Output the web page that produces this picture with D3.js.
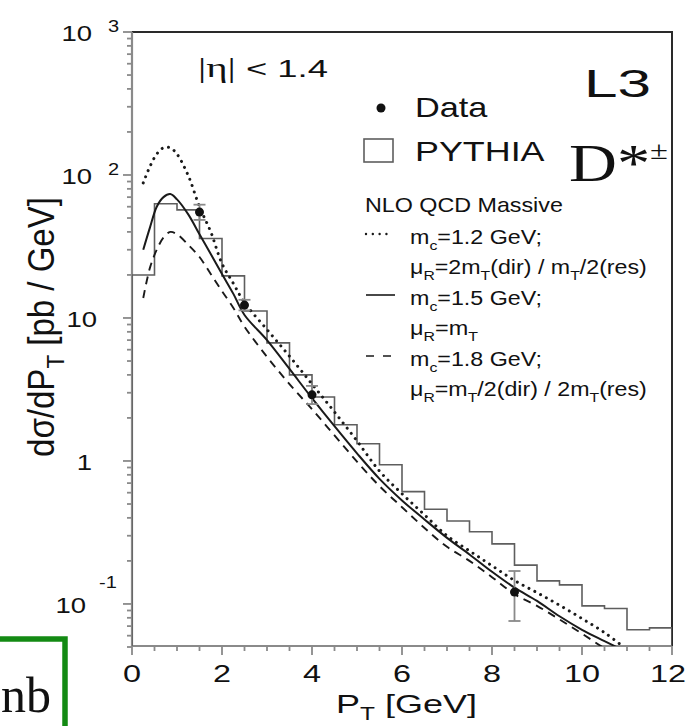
<!DOCTYPE html>
<html>
<head>
<meta charset="utf-8">
<script src="https://cdn.jsdelivr.net/npm/d3@7"></script>
<style>
  html, body { margin: 0; padding: 0; background: #fff; }
  svg { display: block; }
  text { white-space: pre; }
</style>
</head>
<body>
<svg id="chart" width="688" height="726"></svg>
<script>
// ---------------- DATA ----------------
const xTickLabels = [0, 2, 4, 6, 8, 10, 12];
const yTickLabels = [
  { v: 1000, base: "10", exp: "3" },
  { v: 100, base: "10", exp: "2" },
  { v: 10, base: "10", exp: "" },
  { v: 1, base: "1", exp: "" },
  { v: 0.1, base: "10", exp: "-1" }
];

// PYTHIA histogram (bin low edges, GeV) and contents (pb/GeV)
const pythiaLow = [0, 0.5, 1.0, 1.5, 2.0, 2.5, 3.0, 3.5, 4.0, 4.5, 5.0, 5.5,
                   6.0, 6.5, 7.0, 7.5, 8.0, 8.5, 9.0, 9.5, 10.0, 10.5, 11.0, 11.5];
const pythiaVal = [20, 63, 57, 36, 19.7, 11.2, 6.7, 4.0, 2.8, 1.79, 1.32, 0.94,
                   0.61, 0.46, 0.38, 0.32, 0.263, 0.187, 0.145, 0.136, 0.097, 0.093, 0.066, 0.068];

// Data points
const dataPt = [1.5, 2.5, 4.0, 8.5];
const dataVal = [55, 12.3, 2.9, 0.121];
const dataHi = [62, 13.4, 3.35, 0.17];
const dataLo = [48.5, 11.3, 2.5, 0.076];

// NLO QCD massive curves
const nloPt = [0.25, 0.4, 0.55, 0.7, 0.85, 1.0, 1.25, 1.5, 1.75, 2.0, 2.25, 2.5, 3.0, 3.5, 4.0,
               4.5, 5.0, 5.5, 6.0, 6.5, 7.0, 7.5, 8.0, 8.5, 9.0, 9.5, 10.0, 10.5, 11.0];
const nloMc12 = [88, 115, 140, 155, 155, 140, 99, 60, 40, 24, 17.5, 12.8, 8.3, 5.4, 3.45,
                 2.2, 1.38, 0.85, 0.59, 0.42, 0.30, 0.235, 0.185, 0.146, 0.12, 0.098, 0.079, 0.063, 0.048];
const nloMc15 = [30, 43, 60, 70, 73.5, 67.5, 53, 38.5, 28, 20.3, 14.8, 10.5, 7.0, 4.4, 2.75,
                 1.75, 1.13, 0.75, 0.53, 0.39, 0.29, 0.222, 0.168, 0.13, 0.105, 0.082, 0.066, 0.055, 0.046];
const nloMc18 = [13.8, 22.5, 30, 36.5, 40, 38.5, 32.5, 26.7, 20.3, 15.4, 11.8, 8.7, 5.35, 3.45, 2.3,
                 1.51, 0.99, 0.667, 0.475, 0.34, 0.251, 0.2, 0.154, 0.117, 0.097, 0.078, 0.062, 0.049, 0.040];

// ---------------- LAYOUT ----------------
const SANS = "'Liberation Sans', Arial, Helvetica, sans-serif";
const SERIF = "'Liberation Serif', 'Times New Roman', serif";
const L = 132, R = 672, T = 32, B = 646;

const svg = d3.select("#chart");
const x = d3.scaleLinear().domain([0, 12]).range([L, R]);
const y = d3.scaleLog().domain([0.05, 1000]).range([B + 1, T]);

// helper: rich text with sub/superscripts
function rich(parent, parts, size, family) {
  const t = parent.append("text").attr("font-size", size).attr("font-family", family).attr("fill", "#111");
  let shift = 0;
  parts.forEach(p => {
    const target = p.sub ? 0.28 * size : p.sup ? -0.42 * size : 0;
    const ts = t.append("tspan").text(p.t).attr("dy", target - shift);
    if (p.sub || p.sup) ts.attr("font-size", size * (p.scale || 0.68));
    if (p.family) ts.attr("font-family", p.family);
    if (p.size) ts.attr("font-size", p.size);
    shift = target;
  });
  return t;
}
// fit text horizontally: left edge & width
function fitLeft(t, left, w) {
  const bb = t.node().getBBox();
  const s = w / bb.width;
  t.attr("transform", `translate(${left - bb.x * s},0) scale(${s},1)`);
}

// clip
svg.append("defs").append("clipPath").attr("id", "plotclip")
  .append("rect").attr("x", L).attr("y", T).attr("width", R - L).attr("height", B - T);

// ---------------- FRAME & AXES ----------------
svg.append("path").attr("d", `M${L},${T}H${R}V${B}`).attr("fill", "none")
  .attr("stroke", "#2a2a2a").attr("stroke-width", 2);

// left axis (gray) with log ticks pointing outward
const gy = svg.append("g").attr("stroke", "#8a8a8a").attr("stroke-width", 1.8);
gy.append("line").attr("x1", L).attr("x2", L).attr("y1", T).attr("y2", B).attr("stroke-width", 2.2);
const yMajor = [0.1, 1, 10, 100, 1000];
const yMinor = [];
[0.01, 0.1, 1, 10, 100].forEach(d => { for (let k = 2; k <= 9; k++) { const v = d * k; if (v >= 0.05 && v < 1000) yMinor.push(v); } });
yMajor.forEach(v => gy.append("line").attr("x1", L - 9).attr("x2", L).attr("y1", y(v)).attr("y2", y(v)));
yMinor.forEach(v => gy.append("line").attr("x1", L - 5).attr("x2", L).attr("y1", y(v)).attr("y2", y(v)));

// bottom axis (gray) with ticks pointing down
const gx = svg.append("g").attr("stroke", "#8a8a8a").attr("stroke-width", 1.8);
gx.append("line").attr("x1", L).attr("x2", R).attr("y1", B).attr("y2", B).attr("stroke-width", 2.2);
d3.range(0, 12.01, 0.5).forEach(v => {
  const major = xTickLabels.includes(v);
  gx.append("line").attr("x1", x(v)).attr("x2", x(v)).attr("y1", B).attr("y2", B + (major ? 9 : 5));
});

// x tick labels (kept inside the page at the right edge)
xTickLabels.forEach(v => {
  const t = svg.append("text").attr("y", 682).attr("font-size", 24).attr("font-family", SANS)
    .attr("fill", "#111").attr("text-anchor", "middle").text(v);
  const s = 1.35;
  const bb = t.node().getBBox();
  let cx = x(v);
  const half = bb.width * s / 2;
  if (cx + half > 686) cx = 686 - half;
  t.attr("transform", `translate(${cx},0) scale(${s},1)`);
});

// y tick labels
yTickLabels.forEach(d => {
  const yy = y(d.v);
  if (d.exp === "") {
    const t = svg.append("text").attr("y", yy + 9).attr("font-size", 22).attr("font-family", SANS)
      .attr("fill", "#111").attr("text-anchor", "end").text(d.base);
    t.attr("transform", `translate(${d.base.length > 1 ? 97 : 92},0) scale(1.25,1)`);
  } else {
    const neg = d.exp.startsWith("-");
    const t = svg.append("text").attr("y", yy + 9).attr("font-size", 22).attr("font-family", SANS)
      .attr("fill", "#111").attr("text-anchor", "end").text(d.base);
    t.attr("transform", `translate(${neg ? 86 : 92},0) scale(1.25,1)`);
    const e = svg.append("text").attr("y", neg ? yy - 16 : yy).attr("font-size", 16).attr("font-family", SANS)
      .attr("fill", "#111").text(d.exp.replace("-", "\u2011"));
    e.attr("transform", `translate(${neg ? 99 : 108},0) scale(1.25,1)`);
  }
});

// axis titles
const xt = rich(svg, [{ t: "P" }, { t: "T", sub: true }, { t: " [GeV]" }], 26, SANS).attr("y", 713);
fitLeft(xt, 336, 141);

const ytg = svg.append("g").attr("transform", "translate(54,327) rotate(-90)");
const yt = rich(ytg, [{ t: "d\u03c3/dP" }, { t: "T", sub: true }, { t: " [pb / GeV]" }], 29, SANS)
  .attr("text-anchor", "middle");
{
  const bb = yt.node().getBBox();
  const s = 260 / bb.width;
  yt.attr("transform", `translate(${-(bb.x + bb.width / 2) * s},0) scale(${s},1.25)`);
}

// ---------------- PLOT CONTENT ----------------
const plot = svg.append("g").attr("clip-path", "url(#plotclip)");

// PYTHIA histogram
{
  let d = `M${x(pythiaLow[0])},${y(0.05)}V${y(pythiaVal[0])}`;
  pythiaLow.forEach((lo, i) => {
    const hi = i + 1 < pythiaLow.length ? pythiaLow[i + 1] : 12;
    d += `V${y(pythiaVal[i])}H${x(hi)}`;
  });
  d += `V${y(0.05)}`;
  plot.append("path").attr("d", d).attr("fill", "none").attr("stroke", "#5e5e5e").attr("stroke-width", 1.6);
}

// NLO curves
const line = d3.line().x(d => x(d[0])).y(d => y(d[1])).curve(d3.curveCatmullRom.alpha(0.5));
const curveStyles = [
  { vals: nloMc12, dash: "0.01,6.6", width: 3, cap: "round" },
  { vals: nloMc15, dash: null, width: 2, cap: "butt" },
  { vals: nloMc18, dash: "8,6", width: 1.9, cap: "butt" }
];
curveStyles.forEach(c => {
  const p = plot.append("path").datum(nloPt.map((v, i) => [v, c.vals[i]]))
    .attr("d", line).attr("fill", "none").attr("stroke", "#1a1a1a")
    .attr("stroke-width", c.width).attr("stroke-linecap", c.cap);
  if (c.dash) p.attr("stroke-dasharray", c.dash);
});

// data points with error bars
const gd = svg.append("g");
dataPt.forEach((pt, i) => {
  const cx = x(pt);
  gd.append("line").attr("x1", cx).attr("x2", cx).attr("y1", y(dataHi[i])).attr("y2", y(dataLo[i]))
    .attr("stroke", "#8a8a8a").attr("stroke-width", 1.8);
  [dataHi[i], dataLo[i]].forEach(v => gd.append("line").attr("x1", cx - 6).attr("x2", cx + 6)
    .attr("y1", y(v)).attr("y2", y(v)).attr("stroke", "#8a8a8a").attr("stroke-width", 1.8));
  gd.append("circle").attr("cx", cx).attr("cy", y(dataVal[i])).attr("r", 4.5).attr("fill", "#111");
});

// ---------------- TEXT / LEGEND ----------------
{
  const t = rich(svg, [{ t: "|\u03b7|", family: SERIF, size: 27 }, { t: " < 1.4" }], 24, SANS).attr("y", 77);
  fitLeft(t, 198, 130);
}
{
  const t = svg.append("text").attr("y", 97).attr("font-size", 38).attr("font-family", SANS)
    .attr("fill", "#111").text("L3");
  fitLeft(t, 584, 67);
}
// Data legend
svg.append("circle").attr("cx", 381).attr("cy", 108).attr("r", 4.5).attr("fill", "#111");
{
  const t = svg.append("text").attr("y", 117).attr("font-size", 28).attr("font-family", SANS)
    .attr("fill", "#111").text("Data");
  fitLeft(t, 415, 73);
}
// PYTHIA legend
svg.append("rect").attr("x", 364).attr("y", 139).attr("width", 29).attr("height", 23)
  .attr("fill", "none").attr("stroke", "#5e5e5e").attr("stroke-width", 1.6);
{
  const t = svg.append("text").attr("y", 161).attr("font-size", 28).attr("font-family", SANS)
    .attr("fill", "#111").text("PYTHIA");
  fitLeft(t, 415, 130);
}
// D*±
{
  const t = svg.append("text").attr("y", 181).attr("font-size", 53).attr("font-family", SERIF).attr("fill", "#111");
  t.append("tspan").text("D*");
  t.append("tspan").text("\u00b1").attr("font-size", 26).attr("dy", -22);
  fitLeft(t, 569, 99);
}
// NLO legend
{
  const t = svg.append("text").attr("y", 212).attr("font-size", 21).attr("font-family", SANS)
    .attr("fill", "#111").text("NLO QCD Massive");
  fitLeft(t, 365, 198);
}
const legRows = [
  { parts: [{ t: "m" }, { t: "c", sub: true }, { t: "=1.2 GeV;" }], y: 244, w: 132, sample: 0 },
  { parts: [{ t: "\u03bc" }, { t: "R", sub: true }, { t: "=2m" }, { t: "T", sub: true }, { t: "(dir) / m" }, { t: "T", sub: true }, { t: "/2(res)" }], y: 274, w: 237 },
  { parts: [{ t: "m" }, { t: "c", sub: true }, { t: "=1.5 GeV;" }], y: 305, w: 132, sample: 1 },
  { parts: [{ t: "\u03bc" }, { t: "R", sub: true }, { t: "=m" }, { t: "T", sub: true }], y: 335, w: 68 },
  { parts: [{ t: "m" }, { t: "c", sub: true }, { t: "=1.8 GeV;" }], y: 366, w: 132, sample: 2 },
  { parts: [{ t: "\u03bc" }, { t: "R", sub: true }, { t: "=m" }, { t: "T", sub: true }, { t: "/2(dir) / 2m" }, { t: "T", sub: true }, { t: "(res)" }], y: 396, w: 237 }
];
legRows.forEach(r => {
  const t = rich(svg, r.parts, 20, SANS).attr("y", r.y);
  fitLeft(t, 410, r.w);
  if (r.sample !== undefined) {
    const c = curveStyles[r.sample];
    const sy = r.y - 10;
    const p = svg.append("line").attr("x1", 366).attr("x2", r.sample === 0 ? 393 : 395)
      .attr("y1", sy).attr("y2", sy).attr("stroke", "#1a1a1a")
      .attr("stroke-width", r.sample === 0 ? 2.4 : 1.6).attr("stroke-linecap", c.cap);
    if (r.sample === 0) p.attr("stroke-dasharray", "0.01,6.8");
    if (r.sample === 2) p.attr("stroke-dasharray", "8,9");
  }
});

// green box fragment with "nb" (bottom-left)
svg.append("path").attr("d", "M-5,639H65V732").attr("fill", "none")
  .attr("stroke", "#138a13").attr("stroke-width", 5.5);
{
  const t = svg.append("text").attr("x", 0).attr("y", 712).attr("font-size", 50).attr("font-family", SERIF)
    .attr("fill", "#111").text("nb");
  const bb = t.node().getBBox();
  if (bb.x < 1) t.attr("x", 1 - bb.x);
}
</script>
</body>
</html>
